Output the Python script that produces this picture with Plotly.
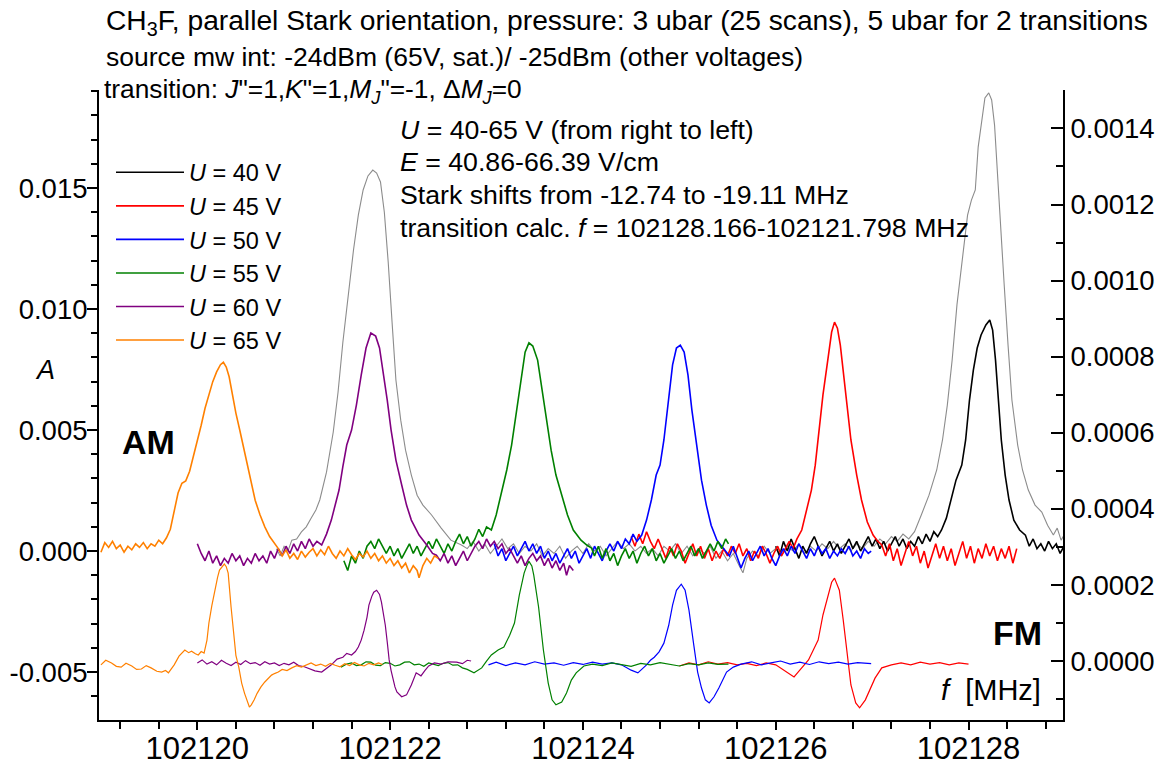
import plotly.graph_objects as go

# ---------------- data ----------------
F0 = 102120.0          # frequency offset base [MHz]
AM_UNIT = 1e-3         # AM values below are given in units of 1e-3 (left axis)
FM_UNIT = 1e-4         # FM values below are given in units of 1e-4 (right axis)

voltages = [40, 45, 50, 55, 60, 65]
colors = {40: "#000000", 45: "#ff0000", 50: "#0000ff", 55: "#008000", 60: "#800080", 65: "#ff8000"}

x_tickvals = [102120, 102122, 102124, 102126, 102128]
x_ticktext = ["102120", "102122", "102124", "102126", "102128"]
yl_tickvals = [-0.005, 0.0, 0.005, 0.010, 0.015]
yl_ticktext = ["-0.005", "0.000", "0.005", "0.010", "0.015"]
yr_tickvals = [0.0, 0.0002, 0.0004, 0.0006, 0.0008, 0.0010, 0.0012, 0.0014]
yr_ticktext = ["0.0000", "0.0002", "0.0004", "0.0006", "0.0008", "0.0010", "0.0012", "0.0014"]

# (f - F0 [MHz], A [1e-3])
am65 = [(-1.00,-0.05),(-0.96,0.35),(-0.92,0.15),(-0.88,0.40),(-0.84,0.10),(-0.80,0.25),(-0.76,-0.05),(-0.72,0.20),(-0.68,0.05),(-0.64,0.30),(-0.60,0.15),(-0.56,0.35),(-0.52,0.10),(-0.48,0.30),(-0.44,0.20),(-0.40,0.45),(-0.36,0.30),(-0.32,0.55),(-0.28,0.90),(-0.24,1.60),(-0.20,2.40),(-0.16,2.80),(-0.12,2.90),(-0.08,3.30),(-0.04,3.90),(0.00,4.60),(0.04,5.20),(0.08,5.90),(0.12,6.50),(0.16,7.00),(0.20,7.40),(0.24,7.70),(0.27,7.80),(0.30,7.60),(0.33,7.20),(0.36,6.50),(0.40,5.70),(0.44,5.00),(0.48,4.30),(0.52,3.50),(0.56,2.80),(0.60,2.10),(0.65,1.50),(0.70,1.00),(0.75,0.60),(0.80,0.30),(0.84,0.10),(0.88,-0.20),(0.92,0.05),(0.96,-0.30),(1.00,-0.10),(1.04,-0.35),(1.08,0.00),(1.12,-0.25),(1.16,-0.05),(1.20,0.10),(1.24,-0.20),(1.28,0.05),(1.32,-0.15),(1.36,0.20),(1.40,-0.10),(1.44,-0.30),(1.48,0.00),(1.52,-0.20),(1.56,0.10),(1.60,-0.15),(1.64,-0.35),(1.68,-0.10),(1.72,-0.25),(1.76,0.00),(1.80,-0.30),(1.84,-0.10),(1.88,-0.40),(1.92,-0.20),(1.96,-0.50),(2.00,-0.30),(2.04,-0.60),(2.08,-0.40),(2.12,-0.70),(2.16,-0.50),(2.20,-0.90),(2.24,-0.60),(2.28,-0.80),(2.30,-1.10),(2.34,-0.60),(2.38,-0.30),(2.42,-0.50),(2.46,-0.20),(2.50,-0.30)]
am60 = [(0.00,0.30),(0.04,-0.10),(0.08,-0.40),(0.12,0.00),(0.16,-0.50),(0.20,-0.20),(0.24,-0.60),(0.28,-0.30),(0.32,-0.50),(0.36,-0.10),(0.40,-0.40),(0.44,-0.20),(0.48,-0.60),(0.52,-0.30),(0.56,-0.50),(0.60,-0.10),(0.64,-0.40),(0.68,-0.20),(0.72,-0.50),(0.76,0.00),(0.80,-0.30),(0.84,0.10),(0.88,-0.20),(0.92,0.20),(0.96,-0.10),(1.00,0.30),(1.04,0.00),(1.08,0.40),(1.12,0.10),(1.16,0.50),(1.20,0.20),(1.24,0.40),(1.29,0.25),(1.34,0.70),(1.39,1.28),(1.43,1.90),(1.47,2.52),(1.51,3.50),(1.55,4.38),(1.60,5.00),(1.65,6.03),(1.70,7.27),(1.75,8.39),(1.80,9.01),(1.85,8.88),(1.89,8.39),(1.93,7.40),(1.97,6.24),(2.01,5.00),(2.06,3.76),(2.12,2.73),(2.17,1.90),(2.22,1.28),(2.30,0.66),(2.38,0.25),(2.44,-0.10),(2.48,-0.17),(2.52,-0.40),(2.56,-0.10),(2.60,-0.50),(2.64,-0.20),(2.68,-0.60),(2.72,-0.30),(2.76,0.00),(2.80,-0.40),(2.84,-0.10),(2.88,0.20),(2.92,0.40),(2.96,0.10),(3.00,0.50),(3.04,0.20),(3.08,0.40),(3.12,0.10),(3.16,0.30),(3.20,-0.10),(3.24,0.10),(3.28,-0.20),(3.32,-0.50),(3.36,-0.20),(3.40,-0.60),(3.44,-0.30),(3.48,-0.10),(3.52,-0.40),(3.56,-0.20),(3.60,-0.60),(3.64,-0.30),(3.68,-0.70),(3.72,-0.40),(3.76,-0.80),(3.80,-0.50),(3.83,-1.00),(3.86,-0.60),(3.90,-0.80)]
am55 = [(1.52,-0.40),(1.56,-0.80),(1.60,-0.20),(1.64,-0.50),(1.68,0.00),(1.72,-0.30),(1.76,0.20),(1.80,0.40),(1.84,0.10),(1.88,0.50),(1.92,0.20),(1.96,-0.10),(2.00,0.20),(2.04,-0.20),(2.08,0.10),(2.12,-0.30),(2.16,0.00),(2.20,0.30),(2.24,-0.10),(2.28,0.20),(2.32,-0.20),(2.36,0.10),(2.40,0.40),(2.44,0.10),(2.48,0.50),(2.52,0.20),(2.56,-0.10),(2.60,0.30),(2.64,0.00),(2.68,0.40),(2.72,0.70),(2.76,0.30),(2.80,0.60),(2.84,0.20),(2.88,0.50),(2.92,0.90),(2.96,0.60),(3.00,1.00),(3.05,0.87),(3.10,1.49),(3.15,2.31),(3.21,3.35),(3.26,4.38),(3.31,5.83),(3.36,7.27),(3.40,8.22),(3.44,8.60),(3.48,8.47),(3.53,7.89),(3.57,6.86),(3.62,5.41),(3.67,4.17),(3.72,3.14),(3.78,2.31),(3.84,1.49),(3.90,0.87),(3.98,0.45),(4.04,0.25),(4.09,0.12),(4.12,-0.20),(4.16,0.20),(4.20,-0.30),(4.24,0.10),(4.28,-0.40),(4.32,-0.10),(4.36,-0.60),(4.40,-0.20),(4.44,0.10),(4.48,-0.30),(4.52,0.00),(4.56,-0.50),(4.60,-0.10),(4.64,0.20),(4.68,-0.20),(4.72,0.10),(4.76,-0.40),(4.80,-0.10),(4.84,-0.50),(4.88,-0.20),(4.92,0.10),(4.96,-0.30),(5.00,0.00),(5.04,-0.40),(5.08,-0.10),(5.12,0.20),(5.16,-0.20),(5.20,0.10),(5.24,-0.30),(5.28,0.00),(5.32,0.30),(5.36,0.00),(5.40,0.40),(5.44,0.10),(5.48,0.50),(5.51,0.30)]
am50 = [(3.08,0.30),(3.12,-0.20),(3.16,0.10),(3.20,-0.40),(3.24,-0.10),(3.28,0.20),(3.32,-0.20),(3.36,0.10),(3.40,0.40),(3.44,0.00),(3.48,0.30),(3.52,-0.10),(3.56,0.20),(3.60,-0.30),(3.64,0.00),(3.68,-0.40),(3.72,-0.10),(3.76,-0.50),(3.80,-0.20),(3.84,0.10),(3.88,-0.30),(3.92,0.00),(3.96,-0.50),(4.00,-0.20),(4.04,0.10),(4.08,-0.30),(4.12,0.20),(4.16,-0.10),(4.20,-0.40),(4.24,0.00),(4.28,0.30),(4.32,0.00),(4.36,0.40),(4.40,0.10),(4.44,0.50),(4.48,0.30),(4.52,0.70),(4.56,0.40),(4.61,0.66),(4.66,1.28),(4.71,2.11),(4.76,3.14),(4.80,3.55),(4.84,4.59),(4.89,6.24),(4.93,7.69),(4.97,8.39),(5.01,8.51),(5.05,8.22),(5.09,7.27),(5.13,5.83),(5.18,4.38),(5.23,2.93),(5.28,1.90),(5.33,1.07),(5.39,0.45),(5.46,0.12),(5.52,-0.20),(5.56,0.20),(5.60,-0.30),(5.64,-0.70),(5.68,-0.30),(5.72,0.00),(5.76,-0.40),(5.80,-0.10),(5.84,0.20),(5.88,-0.20),(5.92,0.10),(5.96,-0.30),(6.00,-0.60),(6.04,-0.20),(6.08,0.10),(6.12,-0.20),(6.16,0.20),(6.20,-0.10),(6.24,0.30),(6.28,0.00),(6.32,-0.30),(6.36,0.10),(6.40,-0.20),(6.44,0.20),(6.48,-0.10),(6.52,0.10),(6.56,-0.30),(6.60,0.00),(6.64,-0.20),(6.68,0.10),(6.72,-0.10),(6.76,0.20),(6.80,-0.20),(6.84,0.00),(6.88,-0.30),(6.92,0.10),(6.96,-0.10),(6.99,0.00)]
am45 = [(4.50,0.60),(4.54,0.20),(4.58,0.70),(4.62,0.30),(4.66,0.80),(4.70,0.40),(4.74,0.10),(4.78,0.50),(4.82,0.10),(4.86,-0.30),(4.90,0.20),(4.94,-0.20),(4.98,0.30),(5.02,0.00),(5.06,-0.50),(5.10,-0.10),(5.14,0.30),(5.18,-0.20),(5.22,0.20),(5.26,-0.30),(5.30,0.10),(5.34,-0.40),(5.38,0.00),(5.42,-0.30),(5.46,0.10),(5.50,-0.20),(5.54,0.20),(5.58,-0.10),(5.62,0.30),(5.66,-0.20),(5.70,0.10),(5.74,-0.40),(5.78,0.00),(5.82,-0.30),(5.86,0.20),(5.90,-0.10),(5.94,-0.50),(5.98,-0.10),(6.02,0.20),(6.06,-0.20),(6.10,0.10),(6.14,0.40),(6.18,0.10),(6.22,0.50),(6.27,0.87),(6.32,1.69),(6.37,2.52),(6.41,3.55),(6.45,5.00),(6.49,6.45),(6.54,7.89),(6.58,9.05),(6.61,9.46),(6.64,9.21),(6.67,8.51),(6.70,7.40),(6.74,6.03),(6.78,4.59),(6.84,3.14),(6.89,2.11),(6.95,1.20),(7.01,0.66),(7.06,0.40),(7.10,0.25),(7.14,-0.20),(7.18,0.30),(7.22,-0.40),(7.26,0.10),(7.30,-0.60),(7.34,-0.10),(7.38,0.40),(7.42,-0.20),(7.46,0.20),(7.50,-0.50),(7.54,0.00),(7.58,-0.70),(7.62,-0.20),(7.66,0.30),(7.70,-0.30),(7.74,0.20),(7.78,-0.40),(7.82,0.10),(7.86,-0.60),(7.90,-0.10),(7.94,0.40),(7.98,-0.30),(8.02,0.20),(8.06,-0.50),(8.10,0.10),(8.14,-0.30),(8.18,0.30),(8.22,-0.20),(8.26,0.20),(8.30,-0.40),(8.34,0.10),(8.38,-0.30),(8.42,0.20),(8.46,-0.50),(8.50,0.10)]
am40 = [(6.00,0.20),(6.04,-0.20),(6.08,0.40),(6.12,0.00),(6.16,0.50),(6.20,0.10),(6.24,-0.30),(6.28,0.20),(6.32,-0.10),(6.36,0.30),(6.40,0.60),(6.44,0.20),(6.48,-0.20),(6.52,0.10),(6.56,0.40),(6.60,0.00),(6.64,0.30),(6.68,-0.10),(6.72,0.20),(6.76,0.50),(6.80,0.10),(6.84,0.40),(6.88,0.00),(6.92,0.30),(6.96,0.60),(7.00,0.20),(7.04,0.50),(7.08,0.10),(7.12,0.40),(7.16,0.00),(7.20,0.30),(7.24,0.60),(7.28,0.20),(7.32,0.50),(7.36,0.10),(7.40,0.40),(7.44,0.20),(7.48,0.60),(7.52,0.30),(7.56,0.70),(7.60,0.40),(7.64,0.80),(7.68,0.60),(7.72,0.87),(7.77,1.36),(7.82,2.11),(7.87,2.93),(7.93,3.55),(7.97,4.59),(8.01,6.24),(8.05,7.48),(8.09,8.39),(8.13,8.93),(8.18,9.34),(8.22,9.55),(8.25,9.13),(8.28,7.89),(8.31,6.24),(8.34,4.59),(8.38,3.14),(8.42,2.11),(8.47,1.28),(8.53,0.87),(8.59,0.66),(8.63,0.20),(8.67,0.50),(8.71,0.10),(8.75,0.30),(8.79,0.00),(8.83,0.40),(8.87,0.10),(8.91,0.30),(8.95,-0.10),(8.99,0.20)]
# 5 ubar reference scan (grey), two transitions
gray5 = [(0.82,0.10),(0.86,-0.20),(0.90,0.20),(0.94,0.00),(0.98,0.45),(1.03,0.50),(1.08,0.79),(1.13,1.00),(1.18,1.36),(1.23,1.70),(1.27,2.11),(1.34,3.26),(1.41,4.92),(1.46,6.57),(1.51,8.64),(1.57,10.70),(1.62,12.44),(1.67,13.88),(1.72,14.92),(1.77,15.50),(1.82,15.74),(1.86,15.62),(1.90,15.25),(1.94,14.00),(1.98,11.94),(2.02,9.46),(2.06,7.07),(2.11,5.41),(2.16,4.17),(2.22,3.14),(2.28,2.31),(2.34,1.90),(2.43,1.49),(2.53,0.95),(2.63,0.45),(2.74,0.25),(2.80,0.10),(2.86,0.40),(2.92,0.00),(2.98,0.30),(3.04,-0.10),(3.10,0.20),(3.16,0.50),(3.22,0.10),(3.28,0.30),(3.34,-0.10),(3.40,0.20),(3.46,0.00),(3.52,0.30),(3.58,-0.20),(3.64,0.10),(3.70,-0.10),(3.76,0.20),(3.82,-0.30),(3.88,0.00),(3.94,0.20),(4.00,-0.10),(4.06,0.30),(4.12,0.00),(4.18,0.20),(4.24,-0.20),(4.30,0.10),(4.36,0.40),(4.42,0.10),(4.48,0.30),(4.54,0.00),(4.60,0.20),(4.66,-0.10),(4.72,0.10),(4.78,-0.20),(4.84,0.20),(4.90,0.00),(4.96,0.30),(5.02,-0.10),(5.08,0.20),(5.14,-0.20),(5.20,0.10),(5.26,-0.10),(5.32,0.20),(5.38,-0.30),(5.44,0.00),(5.50,-0.40),(5.56,-0.10),(5.62,-0.60),(5.66,-0.90),(5.70,-0.30),(5.76,0.00),(5.82,-0.20),(5.88,0.20),(5.94,-0.10),(6.00,0.10),(6.06,-0.20),(6.12,0.20),(6.18,0.00),(6.24,0.30),(6.30,-0.10),(6.36,0.20),(6.42,0.00),(6.48,0.30),(6.54,0.10),(6.60,0.40),(6.66,0.10),(6.72,0.30),(6.78,0.00),(6.84,0.30),(6.90,0.10),(6.96,0.40),(7.02,0.20),(7.08,0.50),(7.14,0.30),(7.20,0.60),(7.26,0.40),(7.32,0.70),(7.38,0.50),(7.44,0.80),(7.51,1.49),(7.59,2.31),(7.67,3.35),(7.73,4.59),(7.78,6.03),(7.83,7.89),(7.88,10.17),(7.94,12.23),(7.99,13.88),(8.03,14.50),(8.07,14.92),(8.10,16.69),(8.15,18.14),(8.17,18.72),(8.21,18.93),(8.24,18.64),(8.27,17.60),(8.30,15.54),(8.33,13.47),(8.37,10.99),(8.41,8.51),(8.45,6.24),(8.51,4.38),(8.56,3.35),(8.62,2.52),(8.69,1.90),(8.76,1.61),(8.82,1.07),(8.88,0.66),(8.92,0.95),(8.96,0.45),(8.99,0.66)]

# (f - F0 [MHz], FM signal [1e-4])
fm65 = [(-1.00,-0.10),(-0.95,0.02),(-0.89,-0.05),(-0.84,-0.14),(-0.79,-0.16),(-0.74,-0.06),(-0.68,-0.13),(-0.63,-0.22),(-0.58,-0.21),(-0.53,-0.12),(-0.48,-0.18),(-0.42,-0.27),(-0.37,-0.29),(-0.33,-0.25),(-0.30,-0.31),(-0.24,-0.10),(-0.19,0.13),(-0.13,0.29),(-0.09,0.22),(-0.06,0.26),(-0.02,0.19),(0.01,0.16),(0.04,0.25),(0.07,0.21),(0.10,0.55),(0.12,1.00),(0.15,1.45),(0.18,1.86),(0.21,2.20),(0.23,2.39),(0.26,2.50),(0.28,2.55),(0.30,2.48),(0.32,2.31),(0.35,1.42),(0.38,0.55),(0.40,0.15),(0.43,-0.16),(0.46,-0.58),(0.49,-0.85),(0.51,-1.02),(0.54,-1.21),(0.56,-1.15),(0.59,-1.02),(0.62,-0.85),(0.66,-0.68),(0.70,-0.55),(0.73,-0.48),(0.77,-0.37),(0.80,-0.33),(0.84,-0.29),(0.88,-0.22),(0.93,-0.25),(0.98,-0.18),(1.03,-0.12),(1.08,-0.16),(1.13,-0.10),(1.18,-0.05),(1.23,-0.12),(1.28,-0.08),(1.33,-0.14),(1.38,-0.06),(1.43,-0.11),(1.48,-0.15),(1.53,-0.07),(1.58,-0.12),(1.63,-0.04),(1.68,-0.10),(1.73,-0.13),(1.78,-0.06),(1.83,-0.10),(1.88,-0.05),(1.92,-0.09)]
fm60 = [(0.00,-0.05),(0.05,0.03),(0.10,-0.08),(0.15,-0.02),(0.20,-0.10),(0.25,0.02),(0.30,-0.06),(0.35,-0.12),(0.40,-0.03),(0.45,-0.09),(0.50,0.01),(0.55,-0.07),(0.60,-0.04),(0.65,-0.11),(0.70,-0.02),(0.75,-0.08),(0.80,-0.05),(0.85,-0.12),(0.90,-0.06),(0.95,-0.10),(1.00,-0.03),(1.05,-0.12),(1.11,-0.15),(1.16,-0.20),(1.22,-0.26),(1.29,-0.29),(1.34,-0.20),(1.39,-0.10),(1.45,0.05),(1.51,0.10),(1.55,0.20),(1.60,0.16),(1.64,0.25),(1.67,0.37),(1.70,0.55),(1.73,0.81),(1.76,1.15),(1.78,1.47),(1.81,1.70),(1.83,1.81),(1.86,1.86),(1.89,1.75),(1.91,1.55),(1.93,1.25),(1.95,0.94),(1.97,0.50),(1.99,0.03),(2.01,-0.25),(2.03,-0.50),(2.05,-0.68),(2.07,-0.81),(2.10,-0.90),(2.12,-0.94),(2.17,-0.89),(2.22,-0.63),(2.27,-0.31),(2.32,-0.39),(2.36,-0.25),(2.40,-0.13),(2.46,-0.05),(2.53,-0.08),(2.60,-0.02),(2.69,-0.03),(2.75,-0.07),(2.80,0.02),(2.84,0.00)]
fm55 = [(1.49,-0.16),(1.55,-0.08),(1.60,-0.05),(1.65,-0.12),(1.70,-0.10),(1.75,-0.02),(1.80,-0.03),(1.85,-0.11),(1.90,-0.12),(1.95,-0.04),(2.00,-0.06),(2.05,-0.13),(2.10,-0.10),(2.15,-0.03),(2.20,-0.02),(2.25,-0.10),(2.30,-0.08),(2.35,-0.14),(2.40,-0.05),(2.45,-0.09),(2.50,-0.12),(2.55,-0.06),(2.60,-0.04),(2.65,-0.11),(2.70,-0.10),(2.75,-0.18),(2.80,-0.22),(2.87,-0.31),(2.91,-0.25),(2.95,-0.18),(3.00,0.00),(3.05,0.16),(3.12,0.29),(3.18,0.37),(3.24,0.68),(3.29,1.00),(3.34,1.73),(3.39,2.31),(3.42,2.52),(3.44,2.62),(3.47,2.50),(3.49,2.26),(3.54,1.42),(3.59,0.29),(3.64,-0.58),(3.68,-1.02),(3.72,-1.15),(3.78,-1.08),(3.83,-0.84),(3.88,-0.50),(3.93,-0.31),(4.01,-0.13),(4.10,-0.08),(4.20,-0.12),(4.30,-0.05),(4.40,-0.10),(4.50,-0.14),(4.60,-0.06),(4.70,-0.10),(4.80,-0.04),(4.90,-0.09),(5.00,-0.13),(5.10,-0.07),(5.20,-0.10),(5.30,-0.05),(5.40,-0.09),(5.51,-0.08)]
fm50 = [(3.02,-0.10),(3.10,-0.03),(3.20,-0.12),(3.30,-0.05),(3.40,-0.10),(3.50,-0.02),(3.60,-0.08),(3.70,-0.05),(3.80,-0.11),(3.90,-0.04),(4.00,-0.09),(4.10,-0.03),(4.20,-0.08),(4.30,-0.05),(4.40,-0.10),(4.50,-0.24),(4.57,-0.31),(4.62,-0.20),(4.66,-0.10),(4.70,0.02),(4.74,0.10),(4.79,0.24),(4.84,0.47),(4.89,0.94),(4.93,1.47),(4.97,1.86),(5.02,2.02),(5.06,1.86),(5.10,1.34),(5.15,0.42),(5.19,-0.29),(5.23,-0.71),(5.27,-1.02),(5.31,-1.10),(5.36,-0.94),(5.41,-0.71),(5.45,-0.50),(5.49,-0.29),(5.56,-0.16),(5.64,-0.08),(5.75,-0.02),(5.85,-0.10),(5.95,-0.05),(6.05,0.00),(6.15,-0.08),(6.25,-0.03),(6.35,-0.09),(6.45,-0.02),(6.55,-0.07),(6.65,-0.03),(6.75,-0.08),(6.85,-0.04),(6.99,-0.07)]
fm45 = [(5.00,-0.13),(5.10,-0.05),(5.20,-0.10),(5.30,-0.02),(5.40,-0.08),(5.50,-0.04),(5.60,-0.10),(5.70,-0.06),(5.80,-0.12),(5.90,-0.05),(6.00,-0.10),(6.08,-0.24),(6.14,-0.35),(6.19,-0.42),(6.23,-0.30),(6.27,-0.18),(6.34,0.03),(6.39,0.29),(6.44,0.55),(6.49,1.21),(6.54,1.73),(6.58,2.07),(6.61,2.18),(6.66,1.86),(6.70,1.08),(6.74,0.16),(6.78,-0.63),(6.83,-1.10),(6.87,-1.23),(6.93,-1.02),(6.98,-0.71),(7.03,-0.45),(7.10,-0.18),(7.20,-0.10),(7.30,-0.05),(7.40,-0.10),(7.50,-0.03),(7.60,-0.08),(7.70,-0.04),(7.80,-0.10),(7.90,-0.05),(8.00,-0.08)]

am_data = {40: am40, 45: am45, 50: am50, 55: am55, 60: am60, 65: am65}
fm_data = {45: fm45, 50: fm50, 55: fm55, 60: fm60, 65: fm65}

# ---------------- figure ----------------
W, H = 1161, 769
L, R, T, B = 99, 98, 90, 49
PW, PH = W - L - R, H - T - B
FONT = "Liberation Sans, Arial, Helvetica, sans-serif"


def px(x):
    return (x - L) / PW


def py(y):
    return (H - B - y) / PH


def unpack(pairs, unit):
    return [F0 + p[0] for p in pairs], [p[1] * unit for p in pairs]


fig = go.Figure()

gx, gy = unpack(gray5, AM_UNIT)
fig.add_trace(go.Scatter(x=gx, y=gy, mode="lines", line=dict(color="#8c8c8c", width=1.1),
                         showlegend=False, hoverinfo="skip"))

for v in voltages:
    xs, ys = unpack(am_data[v], AM_UNIT)
    fig.add_trace(go.Scatter(x=xs, y=ys, mode="lines", name=f"<i>U</i> = {v} V",
                             line=dict(color=colors[v], width=1.6)))

for v in [45, 50, 55, 60, 65]:
    xs, ys = unpack(fm_data[v], FM_UNIT)
    fig.add_trace(go.Scatter(x=xs, y=ys, mode="lines", yaxis="y2", showlegend=False,
                             line=dict(color=colors[v], width=1.2)))

axis_common = dict(showgrid=False, zeroline=False, showline=True, linecolor="black", linewidth=2,
                   tickcolor="black", tickwidth=2, automargin=False)

fig.update_layout(
    width=W, height=H,
    margin=dict(l=L, r=R, t=T, b=B, autoexpand=False),
    paper_bgcolor="white", plot_bgcolor="white",
    font=dict(family=FONT, color="black", size=26),
    xaxis=dict(range=[102118.98, 102128.98], tickvals=x_tickvals, ticktext=x_ticktext,
               ticks="outside", ticklen=8, tickfont=dict(size=31), ticklabelstandoff=-8,
               minor=dict(dtick=0.4, tick0=102120, ticks="outside", ticklen=7, tickwidth=2, tickcolor="black"),
               anchor="y", **axis_common),
    xaxis2=dict(overlaying="x", matches="x", anchor="y", side="bottom", showline=False,
                range=[102118.98, 102128.98], tickvals=x_tickvals, ticks="inside", ticklen=12,
                tickwidth=2, tickcolor="black", showticklabels=False, showgrid=False, zeroline=False,
                automargin=False),
    yaxis=dict(range=[-0.00698, 0.01905], tickvals=yl_tickvals, ticktext=yl_ticktext,
               ticks="outside", ticklen=10, tickfont=dict(size=27.5), ticklabelstandoff=-6,
               minor=dict(dtick=0.001, tick0=0, ticks="outside", ticklen=6, tickwidth=2, tickcolor="black"),
               **axis_common),
    yaxis2=dict(overlaying="y", side="right", anchor="x", range=[-0.000155, 0.001501],
                tickvals=yr_tickvals, ticktext=yr_ticktext, ticks="inside", ticklen=12,
                tickfont=dict(size=27.5),
                minor=dict(dtick=0.0001, tick0=0, ticks="inside", ticklen=7, tickwidth=2, tickcolor="black"),
                **axis_common),
    legend=dict(x=px(111), y=py(150.5), xanchor="left", yanchor="top", bgcolor="rgba(0,0,0,0)",
                font=dict(size=23.5, family=FONT), itemwidth=68, traceorder="normal",
                tracegroupgap=0),
)

ann = []


def text(x, y, s, size=26, xanchor="left", **kw):
    ann.append(dict(x=px(x), y=py(y), xref="paper", yref="paper", text=s, showarrow=False,
                    xanchor=xanchor, yanchor="middle", font=dict(size=size, family=FONT, color="black"), **kw))


text(104, 22, "CH<sub>3</sub>F, parallel Stark orientation, pressure: 3 ubar (25 scans), 5 ubar for 2 transitions", 28.2)
text(104, 57, "source mw int: -24dBm (65V, sat.)/ -25dBm (other voltages)", 26.5)
text(102, 91, "transition: <i>J</i>\"=1,<i>K</i>\"=1,<i>M<sub>J</sub></i>\"=-1, \u0394<i>M<sub>J</sub></i>=0", 26.3)
text(398, 130, "<i>U</i> = 40-65 V (from right to left)", 26.7)
text(398, 162, "<i>E</i> = 40.86-66.39 V/cm", 26.7)
text(398, 195, "Stark shifts from -12.74 to -19.11 MHz", 26.7)
text(398, 228, "transition calc. <i>f</i> = 102128.166-102121.798 MHz", 26.7)
text(45, 370, "<i>A</i>", 27, xanchor="center")
text(148, 442, "<b>AM</b>", 34, xanchor="center")
text(1017, 633, "<b>FM</b>", 34, xanchor="center")
text(1043, 690, "<i>f</i>  [MHz]", 29, xanchor="right")

fig.update_layout(annotations=ann)

fig.write_html("out.html", config={"displayModeBar": False},
               post_script="document.body.style.margin='0';document.body.style.overflow='hidden';")
